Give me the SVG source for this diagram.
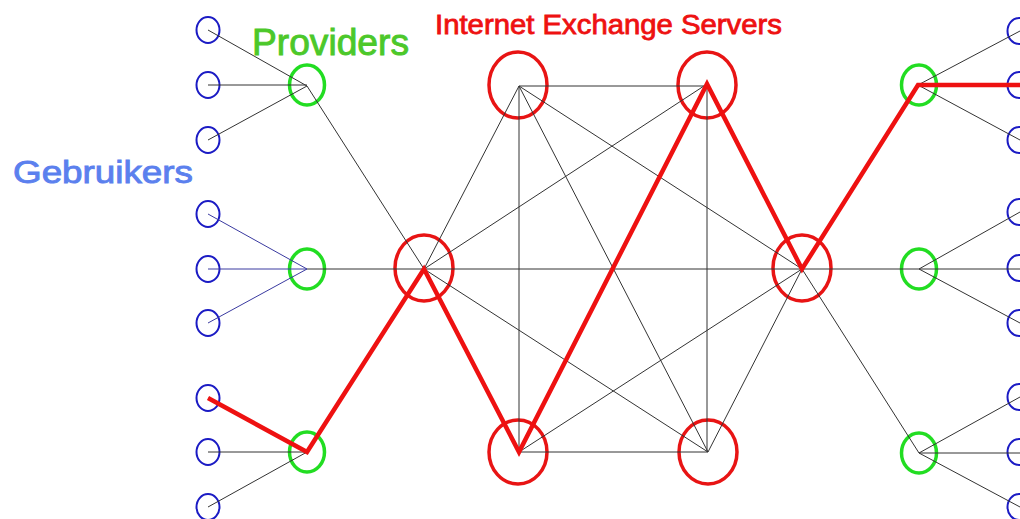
<svg xmlns="http://www.w3.org/2000/svg" width="1020" height="519" viewBox="0 0 1020 519">
<style>
.u{fill:none;stroke:#1b1bc4;stroke-width:2}
.p{fill:none;stroke:#22dd22;stroke-width:3.5}
.x{fill:none;stroke:#e81414;stroke-width:3.5}
.l{stroke:#333;stroke-width:1;fill:none}
.b{stroke:#3a3aa0;stroke-width:1;fill:none}
.r{stroke:#ee1111;stroke-width:4.5;fill:none;stroke-linejoin:miter;stroke-linecap:butt}
.t{font-family:"Liberation Sans",Arial,sans-serif}
</style>
<rect width="1020" height="519" fill="#fff"/>
<g id="labels">
<text class="t" x="13" y="183" font-size="32" fill="#5b80ee" textLength="180" lengthAdjust="spacingAndGlyphs" stroke="#5b80ee" stroke-width="0.9">Gebruikers</text>
<text class="t" x="252" y="55" font-size="36" fill="#4cc82a" textLength="157" lengthAdjust="spacingAndGlyphs" stroke="#4cc82a" stroke-width="0.9">Providers</text>
<text class="t" x="435" y="34" font-size="27" fill="#ee1111" textLength="347" lengthAdjust="spacingAndGlyphs" stroke="#ee1111" stroke-width="0.8">Internet Exchange Servers</text>
</g>
<g id="users-left">
<ellipse id="ul1" class="u" cx="208" cy="30" rx="11.5" ry="13"/>
<ellipse id="ul2" class="u" cx="208" cy="85" rx="11.5" ry="13"/>
<ellipse id="ul3" class="u" cx="208" cy="140" rx="11.5" ry="13"/>
<ellipse id="ul4" class="u" cx="208" cy="214" rx="11.5" ry="13"/>
<ellipse id="ul5" class="u" cx="208" cy="269" rx="11.5" ry="13"/>
<ellipse id="ul6" class="u" cx="208" cy="323" rx="11.5" ry="13"/>
<ellipse id="ul7" class="u" cx="208" cy="398" rx="11.5" ry="13"/>
<ellipse id="ul8" class="u" cx="208" cy="452" rx="11.5" ry="13"/>
<ellipse id="ul9" class="u" cx="208" cy="507" rx="11.5" ry="13"/>
</g>
<g id="users-right">
<ellipse id="ur1" class="u" cx="1019" cy="31" rx="11.5" ry="13"/>
<ellipse id="ur2" class="u" cx="1019" cy="85" rx="11.5" ry="13"/>
<ellipse id="ur3" class="u" cx="1019" cy="140" rx="11.5" ry="13"/>
<ellipse id="ur4" class="u" cx="1019" cy="212" rx="11.5" ry="13"/>
<ellipse id="ur5" class="u" cx="1019" cy="268" rx="11.5" ry="13"/>
<ellipse id="ur6" class="u" cx="1019" cy="323" rx="11.5" ry="13"/>
<ellipse id="ur7" class="u" cx="1019" cy="397" rx="11.5" ry="13"/>
<ellipse id="ur8" class="u" cx="1019" cy="452" rx="11.5" ry="13"/>
<ellipse id="ur9" class="u" cx="1019" cy="507" rx="11.5" ry="13"/>
</g>
<g id="providers">
<ellipse id="pl1" class="p" cx="307" cy="85" rx="17.5" ry="20"/>
<ellipse id="pl2" class="p" cx="307" cy="269" rx="17.5" ry="20"/>
<ellipse id="pl3" class="p" cx="307" cy="452" rx="17.5" ry="20"/>
<ellipse id="pr1" class="p" cx="919" cy="85" rx="17.5" ry="20"/>
<ellipse id="pr2" class="p" cx="919" cy="269" rx="17.5" ry="20"/>
<ellipse id="pr3" class="p" cx="919" cy="453" rx="17.5" ry="20"/>
</g>
<g id="ix">
<ellipse id="ixL" class="x" cx="424" cy="268" rx="29" ry="33"/>
<ellipse id="ixTL" class="x" cx="518" cy="85" rx="29" ry="33"/>
<ellipse id="ixTR" class="x" cx="707" cy="85" rx="29" ry="33"/>
<ellipse id="ixBL" class="x" cx="518" cy="452" rx="29" ry="32"/>
<ellipse id="ixBR" class="x" cx="708" cy="452" rx="29" ry="32"/>
<ellipse id="ixR" class="x" cx="802" cy="268" rx="29" ry="33"/>
</g>
<g id="connectors">
<path class="l" d="M208,30L307,86M208,85H307M208,140L307,86M307,86L424,269"/>
<path class="b" d="M208,214L307,269M208,269H307M208,323L307,269"/>
<path class="l" d="M307,269H1020"/>
<path class="l" d="M208,398L307,452M208,452H307M208,507L307,452M307,452L424,269"/>
<path class="l" d="M424,269L519,86M424,269L519,452M424,269L707,84M424,269L708,452M519,86H707M519,86V452M519,86L708,452M519,86L802,269M707,84L519,452M707,84V452M707,84L802,269M519,452H708M519,452L802,269M708,452L802,269"/>
<path class="l" d="M802,269L918,85M802,269L919,453"/>
<path class="l" d="M918,85L1020,31M918,85H1020M918,85L1020,140M919,269L1020,212M919,269L1020,323M919,453L1020,397M919,453H1020M919,453L1020,507"/>
<path id="route" class="r" d="M208,398L307,452L424,269L519,452L707,84L802,269L918,85H1020"/>
</g>
</svg>
